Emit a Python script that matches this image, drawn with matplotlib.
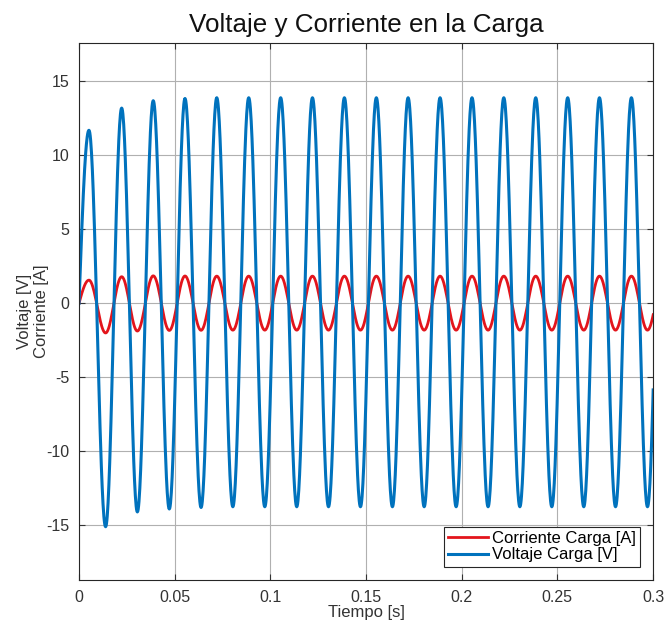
import numpy as np
import matplotlib
matplotlib.use("Agg")
import matplotlib.pyplot as plt

plt.rcParams['font.family'] = ['Liberation Sans', 'DejaVu Sans']
plt.rcParams['axes.unicode_minus'] = False

# extremes (alternating peak / trough), time in s
peak_t = [0.0052, 0.0223, 0.0388, 0.0554, 0.0720, 0.0887, 0.1054, 0.1220, 0.1387,
          0.1554, 0.1720, 0.1887, 0.2054, 0.2220, 0.2387, 0.2554, 0.2720, 0.2887, 0.3054]
trough_t = [0.0139, 0.0305, 0.0472, 0.0638, 0.0804, 0.0971, 0.1138, 0.1304, 0.1471,
            0.1638, 0.1804, 0.1971, 0.2138, 0.2304, 0.2471, 0.2638, 0.2804, 0.2971]

volt_peak = [11.7, 13.2, 13.7, 13.85, 13.9, 13.9, 13.9, 13.9, 13.9, 13.9,
             13.9, 13.9, 13.9, 13.9, 13.9, 13.9, 13.9, 13.9, 13.9]
volt_trough = [-15.1, -14.1, -13.9, -13.8, -13.75, -13.75, -13.75, -13.75, -13.75,
               -13.75, -13.75, -13.75, -13.75, -13.75, -13.75, -13.75, -13.75, -13.75]

curr_peak = [1.57, 1.80, 1.86, 1.85, 1.84, 1.84, 1.84, 1.84, 1.84, 1.84,
             1.84, 1.84, 1.84, 1.84, 1.84, 1.84, 1.84, 1.84, 1.84]
curr_trough = [-2.0, -1.87, -1.83, -1.82, -1.81, -1.81, -1.81, -1.81, -1.81,
               -1.81, -1.81, -1.81, -1.81, -1.81, -1.81, -1.81, -1.81, -1.81]

v_start = 0.0
i_start = 0.0


def waveform(peaks, troughs, start):
    # merge extremes in time order, join them with half-cosine arcs
    tk, vk = [], []
    for k in range(len(peaks)):
        tk.append(peak_t[k]); vk.append(peaks[k])
        if k < len(troughs):
            tk.append(trough_t[k]); vk.append(troughs[k])
    # rise from the start value to the first peak
    s = np.linspace(0, tk[0], 40)
    t_all = [s]
    y_all = [start + (vk[0] - start) * np.sin(np.pi / 2 * s / tk[0])]
    for a in range(len(tk) - 1):
        s = np.linspace(tk[a], tk[a + 1], 40)
        ph = np.pi * (s - tk[a]) / (tk[a + 1] - tk[a])
        y = (vk[a] + vk[a + 1]) / 2 + (vk[a] - vk[a + 1]) / 2 * np.cos(ph)
        t_all.append(s); y_all.append(y)
    return np.concatenate(t_all), np.concatenate(y_all)


t_v, volt = waveform(volt_peak, volt_trough, v_start)
t_i, curr = waveform(curr_peak, curr_trough, i_start)

fig = plt.figure(figsize=(6.65, 6.26), dpi=100)
ax = fig.add_axes([0.1188, 0.0735, 0.8632, 0.8578])

ax.plot(t_i, curr, color='#e3151c', lw=2.0, label='Corriente Carga [A]')
ax.plot(t_v, volt, color='#0072bd', lw=2.2, label='Voltaje Carga [V]')

ax.set_xlim(0, 0.3)
ax.set_ylim(-18.7, 17.6)
ax.set_xticks([0, 0.05, 0.1, 0.15, 0.2, 0.25, 0.3])
ax.set_xticklabels(['0', '0.05', '0.1', '0.15', '0.2', '0.25', '0.3'])
ax.set_yticks([-15, -10, -5, 0, 5, 10, 15])

ax.grid(True, color='#b0b0b0', lw=0.8)
ax.set_axisbelow(True)
ax.tick_params(direction='in', length=4, labelsize=11.5, colors='#333333',
               top=True, right=True, pad=7)
for sp in ax.spines.values():
    sp.set_color('#262626')
    sp.set_linewidth(0.8)

ax.set_title('Voltaje y Corriente en la Carga', fontsize=18.7, color='#111111', pad=8)
ax.set_xlabel('Tiempo [s]', fontsize=12, color='#333333', labelpad=0)
ax.set_ylabel('Voltaje [V]\nCorriente [A]', fontsize=12, color='#333333', labelpad=-2)

leg = ax.legend(loc='lower right', fontsize=12, frameon=True, fancybox=False,
                edgecolor='#262626', framealpha=1, handlelength=2.4,
                handletextpad=0.2, borderpad=0.25, labelspacing=0.1,
                borderaxespad=0.8)
leg.get_frame().set_linewidth(0.8)

fig.savefig('out.png', dpi=100)
